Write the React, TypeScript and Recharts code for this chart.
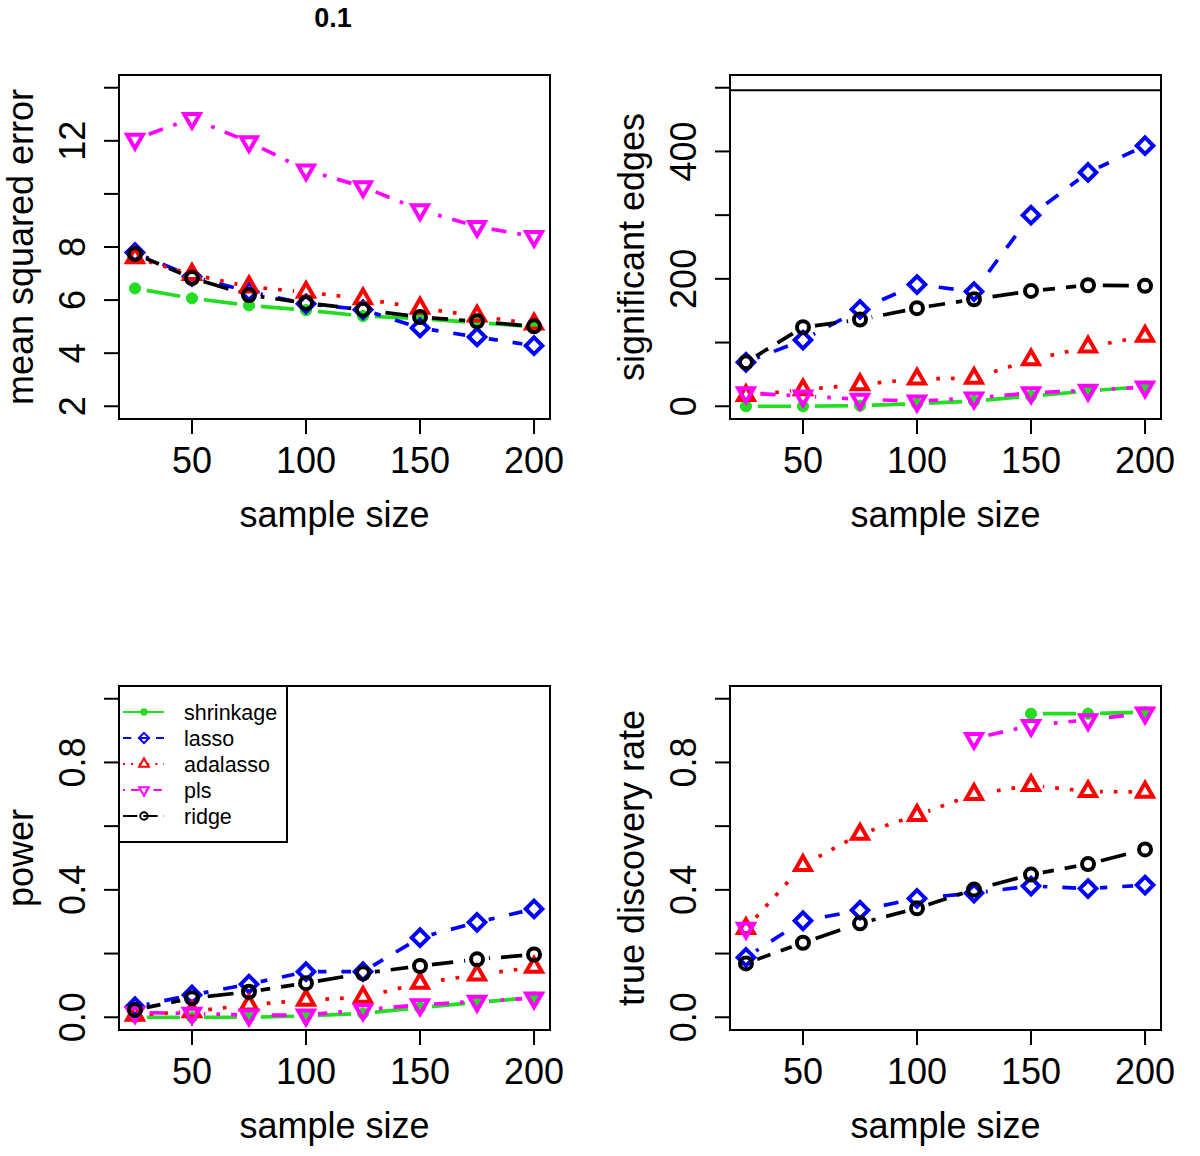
import React from 'react';
import { LineChart, Line, XAxis, YAxis, ReferenceArea, ReferenceLine } from 'recharts';

const sampleSizes = [25, 50, 75, 100, 125, 150, 175, 200];
const xTicks = [50, 100, 150, 200];

// mean squared error
const mseShrinkage = [6.44, 6.07, 5.8, 5.62, 5.4, 5.3, 5.15, 5.0];
const mseLasso = [7.79, 6.89, 6.32, 5.86, 5.64, 4.95, 4.61, 4.28];
const mseAdalasso = [7.6, 6.97, 6.5, 6.3, 6.05, 5.7, 5.4, 5.1];
const msePls = [12.06, 12.84, 11.96, 10.9, 10.27, 9.4, 8.77, 8.39];
const mseRidge = [7.74, 6.83, 6.19, 5.89, 5.64, 5.36, 5.2, 5.01];

// significant edges
const edgesShrinkage = [0, 0, 1, 4, 8, 16, 24, 31];
const edgesLasso = [69, 104, 152, 191, 180, 300, 367, 409];
const edgesAdalasso = [17, 26, 34, 43, 44, 73, 93, 110];
const edgesPls = [21, 16, 11, 8, 13, 21, 25, 30];
const edgesRidge = [69, 124, 136, 154, 168, 181, 190, 189];
const totalEdges = 496;

// power
const powerShrinkage = [0, 0, 0, 0.004, 0.012, 0.03, 0.047, 0.062];
const powerLasso = [0.033, 0.07, 0.104, 0.143, 0.143, 0.25, 0.298, 0.34];
const powerAdalasso = [0.007, 0.018, 0.039, 0.054, 0.063, 0.107, 0.133, 0.157];
const powerPls = [0.015, 0.012, 0.007, 0.007, 0.023, 0.039, 0.05, 0.06];
const powerRidge = [0.023, 0.06, 0.08, 0.107, 0.138, 0.161, 0.182, 0.197];

// true discovery rate (null = not defined)
const tdrShrinkage = [null, null, null, null, null, 0.953, 0.953, 0.958];
const tdrLasso = [0.188, 0.303, 0.336, 0.373, 0.39, 0.412, 0.404, 0.415];
const tdrAdalasso = [0.279, 0.477, 0.575, 0.634, 0.7, 0.728, 0.709, 0.707];
const tdrPls = [0.279, null, null, null, 0.875, 0.916, 0.934, 0.955];
const tdrRidge = [0.169, 0.234, 0.295, 0.342, 0.401, 0.448, 0.481, 0.527];

const FONT = '"Liberation Sans", Arial, Helvetica, sans-serif';
const LW = 3.7;
const GAP = 12; // gap left around each point, like R's type = "b"

type Shape = 'dot' | 'diamond' | 'up' | 'down' | 'circle';
type Method = { key: string; color: string; dash?: string; shape: Shape };

const METHODS: Method[] = [
  { key: 'shrinkage', color: '#22dd22', shape: 'dot' },
  { key: 'lasso', color: '#0000ff', dash: '15 15', shape: 'diamond' },
  { key: 'adalasso', color: '#ff0000', dash: '3.7 11', shape: 'up' },
  { key: 'pls', color: '#ff00ff', dash: '3.7 11 15 11', shape: 'down' },
  { key: 'ridge', color: '#000000', dash: '26 11', shape: 'circle' },
];

// chart geometry (plot box inside each 600x545 chart)
const W = 600;
const H = 545;
const PL = 119;
const PT = 75;
const PW = 431;
const PH = 344;

const Marker = ({ shape, color, x, y, sw = 4 }: { shape: Shape; color: string; x: number; y: number; sw?: number }) => {
  const common = { fill: 'none', stroke: color, strokeWidth: sw };
  if (shape === 'dot') return <circle cx={x} cy={y} r={5.6} fill={color} stroke={color} strokeWidth={1} />;
  if (shape === 'circle') return <circle cx={x} cy={y} r={6} {...common} />;
  if (shape === 'diamond') {
    const d = 8.3;
    return <polygon points={`${x},${y - d} ${x + d},${y} ${x},${y + d} ${x - d},${y}`} {...common} />;
  }
  if (shape === 'up') {
    return <polygon points={`${x},${y - 9.2} ${x + 7.9},${y + 4.6} ${x - 7.9},${y + 4.6}`} {...common} />;
  }
  return <polygon points={`${x},${y + 9.2} ${x + 7.9},${y - 4.6} ${x - 7.9},${y - 4.6}`} {...common} />;
};

const XTick = (props: any) => {
  const { x, payload } = props;
  return (
    <text x={x} y={473} textAnchor="middle" fontSize={36} fontFamily={FONT} fill="#000">
      {payload.value}
    </text>
  );
};

const makeYTick = (labels: number[], fmt: (v: number) => string) => (props: any) => {
  const { y, payload } = props;
  if (!labels.some((l) => Math.abs(l - payload.value) < 1e-9)) return <g />;
  const bx = 85;
  return (
    <text x={bx} y={y} transform={`rotate(-90 ${bx} ${y})`} textAnchor="middle" fontSize={36} fontFamily={FONT} fill="#000">
      {fmt(payload.value)}
    </text>
  );
};

type PanelProps = {
  id: string;
  left: number;
  top: number;
  series: Record<string, (number | null)[]>;
  yDomain: [number, number];
  yTicks: number[];
  yLabels: number[];
  fmt: (v: number) => string;
  yTitle: string;
  refY?: number;
  children?: React.ReactNode;
};

const Panel = ({ id, left, top, series, yDomain, yTicks, yLabels, fmt, yTitle, refY, children }: PanelProps) => {
  const data = sampleSizes.map((n, i) => {
    const row: any = { n };
    METHODS.forEach((m) => (row[m.key] = series[m.key][i]));
    return row;
  });
  const css = METHODS.map((m) => `.${id} .ln-${m.key} .recharts-line-curve { mask: url(#mask-${id}-${m.key}); }`).join('\n');
  return (
    <div className={id} style={{ position: 'absolute', left, top, width: W, height: H }}>
      <style>{css}</style>
      <LineChart width={W} height={H} data={data} margin={{ top: PT, right: W - PL - PW, bottom: H - PT - PH - 60, left: PL - 60 }}>
        <XAxis
          dataKey="n"
          type="number"
          domain={[18, 207]}
          ticks={xTicks}
          allowDataOverflow
          interval={0}
          axisLine={false}
          tickLine={{ stroke: '#000', strokeWidth: 2 }}
          tickSize={15}
          height={60}
          tick={XTick}
        />
        <YAxis
          type="number"
          domain={yDomain}
          ticks={yTicks}
          allowDataOverflow
          interval={0}
          axisLine={false}
          tickLine={{ stroke: '#000', strokeWidth: 2 }}
          tickSize={15}
          width={60}
          tick={makeYTick(yLabels, fmt)}
        />
        <ReferenceArea x1={18} x2={207} y1={yDomain[0]} y2={yDomain[1]} fill="none" stroke="#000" strokeWidth={2} ifOverflow="visible" />
        {refY !== undefined && <ReferenceLine y={refY} stroke="#000" strokeWidth={2} />}
        {METHODS.map((m) => (
          <Line
            key={m.key}
            className={`ln-${m.key}`}
            dataKey={m.key}
            type="linear"
            stroke={m.color}
            strokeWidth={LW}
            strokeDasharray={m.dash}
            connectNulls={false}
            activeDot={false}
            isAnimationActive={false}
            dot={(p: any) => {
              const k = `${m.key}-${p.index}`;
              if (p.cy == null || p.value == null || Number.isNaN(p.cy)) return <g key={k} />;
              return (
                <g key={k}>
                  <defs>
                    <circle id={`hole-${id}-${m.key}-${p.index}`} cx={p.cx} cy={p.cy} r={GAP} fill="#000" />
                  </defs>
                  <Marker shape={m.shape} color={m.color} x={p.cx} y={p.cy} />
                </g>
              );
            }}
          />
        ))}
      </LineChart>
      <svg width={W} height={H} style={{ position: 'absolute', left: 0, top: 0, pointerEvents: 'none' }}>
        <defs>
          {METHODS.map((m) => (
            <mask key={m.key} id={`mask-${id}-${m.key}`} maskUnits="userSpaceOnUse" x={0} y={0} width={W} height={H}>
              <rect x={0} y={0} width={W} height={H} fill="#fff" />
              {sampleSizes.map((_, i) => (
                <use key={i} href={`#hole-${id}-${m.key}-${i}`} />
              ))}
            </mask>
          ))}
        </defs>
        <text x={PL + PW / 2} y={527} textAnchor="middle" fontSize={36} fontFamily={FONT} fill="#000">
          sample size
        </text>
        <text x={33} y={PT + PH / 2} transform={`rotate(-90 33 ${PT + PH / 2})`} textAnchor="middle" fontSize={36} fontFamily={FONT} fill="#000">
          {yTitle}
        </text>
        {children}
      </svg>
    </div>
  );
};

const LegendBox = () => (
  <g>
    <rect x={PL} y={PT} width={168} height={156} fill="#fff" stroke="#000" strokeWidth={2} />
    {METHODS.map((m, i) => {
      const cy = PT + 26 + 26 * i;
      return (
        <g key={m.key}>
          <line
            x1={PL + 4}
            x2={PL + 45}
            y1={cy}
            y2={cy}
            stroke={m.color}
            strokeWidth={2}
            strokeDasharray={m.dash ? m.dash.split(' ').map((v) => String(Number(v) * 0.55)).join(' ') : undefined}
          />
          <g transform={`translate(${PL + 25} ${cy}) scale(0.62) translate(${-(PL + 25)} ${-cy})`}>
            <Marker shape={m.shape} color={m.color} x={PL + 25} y={cy} sw={3.2} />
          </g>
          <text x={PL + 65} y={cy + 7.5} fontSize={21.5} fontFamily={FONT} fill="#000">
            {m.key}
          </text>
        </g>
      );
    })}
  </g>
);

const f0 = (v: number) => String(v);
const f1 = (v: number) => v.toFixed(1);

export default function App() {
  return (
    <div style={{ position: 'absolute', left: 0, top: 0, width: 1200, height: 1156, background: '#fff', overflow: 'hidden' }}>
      <Panel
        id="pa"
        left={0}
        top={0}
        series={{ shrinkage: mseShrinkage, lasso: mseLasso, adalasso: mseAdalasso, pls: msePls, ridge: mseRidge }}
        yDomain={[1.52, 14.48]}
        yTicks={[2, 4, 6, 8, 10, 12, 14]}
        yLabels={[2, 4, 6, 8, 12]}
        fmt={f0}
        yTitle="mean squared error"
      >
        <text x={333} y={27} textAnchor="middle" fontSize={27} fontWeight="bold" fontFamily={FONT} fill="#000">
          0.1
        </text>
      </Panel>
      <Panel
        id="pb"
        left={611}
        top={0}
        series={{ shrinkage: edgesShrinkage, lasso: edgesLasso, adalasso: edgesAdalasso, pls: edgesPls, ridge: edgesRidge }}
        yDomain={[-20, 520]}
        yTicks={[0, 100, 200, 300, 400, 500]}
        yLabels={[0, 200, 400]}
        fmt={f0}
        yTitle="significant edges"
        refY={totalEdges}
      />
      <Panel
        id="pc"
        left={0}
        top={611}
        series={{ shrinkage: powerShrinkage, lasso: powerLasso, adalasso: powerAdalasso, pls: powerPls, ridge: powerRidge }}
        yDomain={[-0.04, 1.04]}
        yTicks={[0, 0.2, 0.4, 0.6, 0.8, 1.0]}
        yLabels={[0, 0.4, 0.8]}
        fmt={f1}
        yTitle="power"
      >
        <LegendBox />
      </Panel>
      <Panel
        id="pd"
        left={611}
        top={611}
        series={{ shrinkage: tdrShrinkage, lasso: tdrLasso, adalasso: tdrAdalasso, pls: tdrPls, ridge: tdrRidge }}
        yDomain={[-0.04, 1.04]}
        yTicks={[0, 0.2, 0.4, 0.6, 0.8, 1.0]}
        yLabels={[0, 0.4, 0.8]}
        fmt={f1}
        yTitle="true discovery rate"
      />
    </div>
  );
}
